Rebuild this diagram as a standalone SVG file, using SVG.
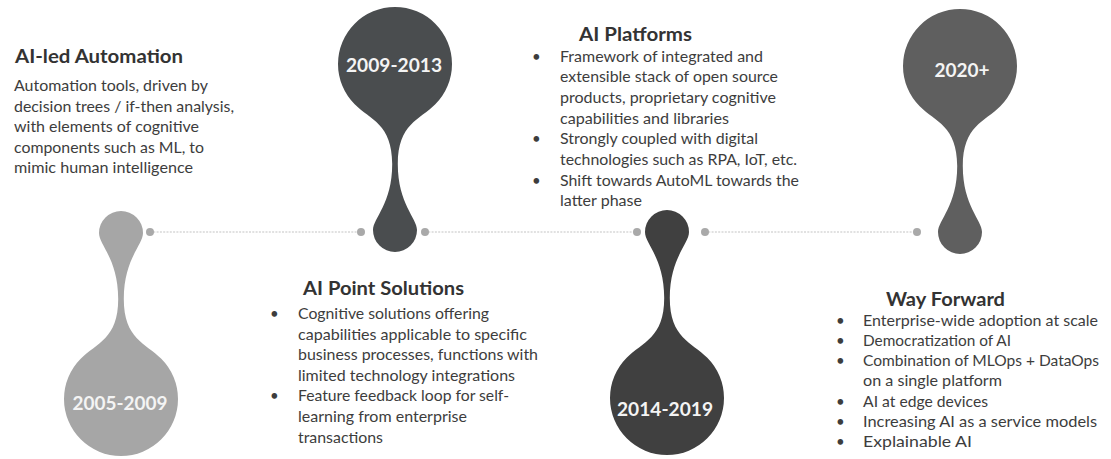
<svg xmlns="http://www.w3.org/2000/svg" width="1111" height="459" viewBox="0 0 1111 459">
<style>
.t{font-family:Lato,"Liberation Sans",sans-serif;font-weight:bold;font-size:18px;fill:#333333}
.b{font-family:Lato,"Liberation Sans",sans-serif;font-size:15px;fill:#3d3d3d}
.y{font-family:Lato,"Liberation Sans",sans-serif;font-weight:bold;font-size:19.5px;fill:#f4f4f4;text-anchor:middle}
.dl{stroke:#c4c4c4;stroke-width:1.2;stroke-dasharray:2 1.3;fill:none}
.dot{fill:#a9a9a9}
</style>
<defs>
<path id="drop" d="M -40.3 40.3 A 57 57 0 1 1 40.3 40.3 C 24.7 55.9 2.8 60 2.8 100 C 2.8 140 22 154 22 166 A 22 22 0 0 1 -22 166 C -22 154 -2.8 140 -2.8 100 C -2.8 60 -24.7 55.9 -40.3 40.3 Z"/>
</defs>
<rect width="1111" height="459" fill="#ffffff"/>
<g id="connectors">
<line class="dl" x1="150" y1="232" x2="361" y2="232"/>
<line class="dl" x1="425" y1="232" x2="637" y2="232"/>
<line class="dl" x1="705" y1="232" x2="917" y2="232"/>
<circle class="dot" cx="150" cy="232" r="4"/>
<circle class="dot" cx="361" cy="232" r="4"/>
<circle class="dot" cx="425" cy="232" r="4"/>
<circle class="dot" cx="637" cy="232" r="4"/>
<circle class="dot" cx="705" cy="232" r="4"/>
<circle class="dot" cx="917" cy="232" r="4"/>
</g>
<g id="node-2005-2009">
<use href="#drop" transform="translate(121,399) scale(1,-1)" fill="#a6a6a6"/>
<text class="y" x="120" y="410" textLength="95" lengthAdjust="spacingAndGlyphs">2005-2009</text>
</g>
<g id="node-2009-2013">
<use href="#drop" transform="translate(395,64)" fill="#4a4d4f"/>
<text class="y" x="394" y="71.5" textLength="96" lengthAdjust="spacingAndGlyphs">2009-2013</text>
</g>
<g id="node-2014-2019">
<use href="#drop" transform="translate(667,398) scale(1,-1)" fill="#404040"/>
<text class="y" x="665" y="416" textLength="96" lengthAdjust="spacingAndGlyphs">2014-2019</text>
</g>
<g id="node-2020">
<use href="#drop" transform="translate(960,66)" fill="#5f5f5f"/>
<text class="y" x="962" y="76.5" textLength="55" lengthAdjust="spacingAndGlyphs">2020+</text>
</g>
<g id="text-ai-led-automation">
<text class="t" x="15" y="63" textLength="168" lengthAdjust="spacingAndGlyphs">AI-led Automation</text>
<text class="b" x="14" y="91" textLength="194" lengthAdjust="spacingAndGlyphs">Automation tools, driven by</text>
<text class="b" x="14" y="111.5" textLength="220" lengthAdjust="spacingAndGlyphs">decision trees / if-then analysis,</text>
<text class="b" x="14" y="132" textLength="185" lengthAdjust="spacingAndGlyphs">with elements of cognitive</text>
<text class="b" x="14" y="152.5" textLength="190" lengthAdjust="spacingAndGlyphs">components such as ML, to</text>
<text class="b" x="14" y="173" textLength="179" lengthAdjust="spacingAndGlyphs">mimic human intelligence</text>
</g>
<g id="text-ai-point-solutions">
<text class="t" x="303" y="295" textLength="161" lengthAdjust="spacingAndGlyphs">AI Point Solutions</text>
<text class="b" x="270" y="319">•</text>
<text class="b" x="298" y="319" textLength="191" lengthAdjust="spacingAndGlyphs">Cognitive solutions offering</text>
<text class="b" x="298" y="339.5" textLength="229" lengthAdjust="spacingAndGlyphs">capabilities applicable to specific</text>
<text class="b" x="298" y="360" textLength="240" lengthAdjust="spacingAndGlyphs">business processes, functions with</text>
<text class="b" x="298" y="380.5" textLength="217" lengthAdjust="spacingAndGlyphs">limited technology integrations</text>
<text class="b" x="270" y="401">•</text>
<text class="b" x="298" y="401" textLength="211" lengthAdjust="spacingAndGlyphs">Feature feedback loop for self-</text>
<text class="b" x="298" y="421.5" textLength="169" lengthAdjust="spacingAndGlyphs">learning from enterprise</text>
<text class="b" x="298" y="442.5" textLength="85" lengthAdjust="spacingAndGlyphs">transactions</text>
</g>
<g id="text-ai-platforms">
<text class="t" x="579" y="40.5" textLength="113" lengthAdjust="spacingAndGlyphs">AI Platforms</text>
<text class="b" x="532" y="61.5">•</text>
<text class="b" x="560" y="61.5" textLength="203" lengthAdjust="spacingAndGlyphs">Framework of integrated and</text>
<text class="b" x="560" y="82.3" textLength="218" lengthAdjust="spacingAndGlyphs">extensible stack of open source</text>
<text class="b" x="560" y="103" textLength="216" lengthAdjust="spacingAndGlyphs">products, proprietary cognitive</text>
<text class="b" x="560" y="123.5" textLength="169" lengthAdjust="spacingAndGlyphs">capabilities and libraries</text>
<text class="b" x="532" y="144.3">•</text>
<text class="b" x="560" y="144.3" textLength="198" lengthAdjust="spacingAndGlyphs">Strongly coupled with digital</text>
<text class="b" x="560" y="165" textLength="237" lengthAdjust="spacingAndGlyphs">technologies such as RPA, IoT, etc.</text>
<text class="b" x="532" y="185.7">•</text>
<text class="b" x="560" y="185.7" textLength="239" lengthAdjust="spacingAndGlyphs">Shift towards AutoML towards the</text>
<text class="b" x="560" y="206" textLength="82" lengthAdjust="spacingAndGlyphs">latter phase</text>
</g>
<g id="text-way-forward">
<text class="t" x="886" y="306" textLength="119" lengthAdjust="spacingAndGlyphs">Way Forward</text>
<text class="b" x="836" y="325.7">•</text>
<text class="b" x="863" y="325.7" textLength="235" lengthAdjust="spacingAndGlyphs">Enterprise-wide adoption at scale</text>
<text class="b" x="836" y="345.7">•</text>
<text class="b" x="863" y="345.7" textLength="148" lengthAdjust="spacingAndGlyphs">Democratization of AI</text>
<text class="b" x="836" y="366">•</text>
<text class="b" x="863" y="366" textLength="236" lengthAdjust="spacingAndGlyphs">Combination of MLOps + DataOps</text>
<text class="b" x="863" y="386" textLength="139" lengthAdjust="spacingAndGlyphs">on a single platform</text>
<text class="b" x="836" y="406.7">•</text>
<text class="b" x="863" y="406.7" textLength="125" lengthAdjust="spacingAndGlyphs">AI at edge devices</text>
<text class="b" x="836" y="426.7">•</text>
<text class="b" x="863" y="426.7" textLength="234" lengthAdjust="spacingAndGlyphs">Increasing AI as a service models</text>
<text class="b" x="836" y="446.7">•</text>
<text class="b" x="863" y="446.7" textLength="109" lengthAdjust="spacingAndGlyphs">Explainable AI</text>
</g>
</svg>
